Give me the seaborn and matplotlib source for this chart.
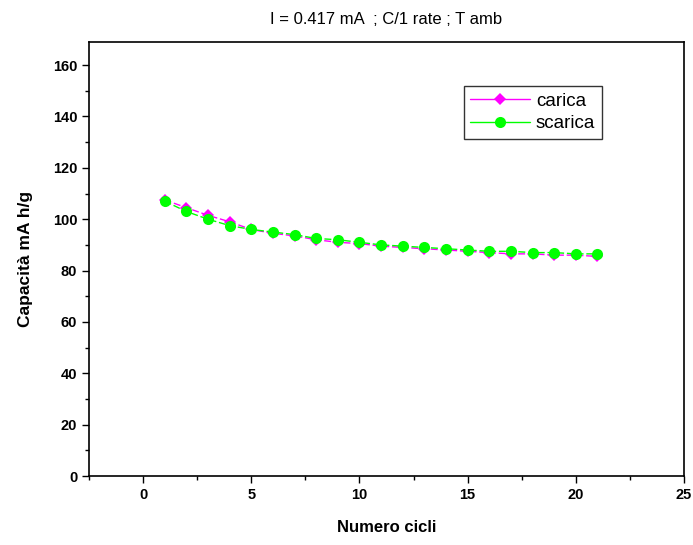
import matplotlib
matplotlib.use("Agg")
import matplotlib.pyplot as plt
import seaborn as sns
import pandas as pd
from matplotlib.ticker import MultipleLocator

cicli = list(range(1, 22))
carica = [107.5, 104.5, 101.5, 99, 96, 94.5, 93.5, 92, 91, 90.5, 89.5,
          89, 88.5, 88, 87.5, 87, 86.5, 86.5, 86, 86, 85.5]
scarica = [107, 103, 100, 97.5, 96, 95, 94, 92.5, 92, 91, 90,
           89.5, 89, 88.5, 88, 87.5, 87.5, 87, 87, 86.5, 86.5]

sns.set_theme(style="ticks")
plt.rcParams['font.family'] = ['Liberation Sans', 'DejaVu Sans']
plt.rcParams['text.color'] = 'black'
plt.rcParams['axes.labelcolor'] = 'black'
plt.rcParams['xtick.color'] = 'black'
plt.rcParams['ytick.color'] = 'black'

fig = plt.figure(figsize=(6.93, 5.45), dpi=100)
ax = fig.add_axes([89/693, 1-476/545, 595/693, 434/545])

df1 = pd.DataFrame({"x": cicli, "y": carica})
df2 = pd.DataFrame({"x": cicli, "y": scarica})
sns.lineplot(data=df1, x="x", y="y", ax=ax, color="#ff00ff", marker="D",
             markersize=6.5, markeredgewidth=0, linewidth=1, dashes=(5, 2),
             label="carica")
sns.lineplot(data=df2, x="x", y="y", ax=ax, color="#00ff00", marker="o",
             markersize=8, markeredgewidth=0, linewidth=1, dashes=(5, 2),
             label="scarica")

ax.set_xlim(-2.5, 25)
ax.set_ylim(0, 169)
ax.xaxis.set_major_locator(MultipleLocator(5))
ax.xaxis.set_minor_locator(MultipleLocator(2.5))
ax.yaxis.set_major_locator(MultipleLocator(20))
ax.yaxis.set_minor_locator(MultipleLocator(10))
ax.tick_params(axis='both', which='major', direction='out', length=5, width=1,
               labelsize=10.5, color='black', labelcolor='black')
ax.tick_params(axis='both', which='minor', direction='out', length=3, width=1,
               color='black')
for lab in ax.get_xticklabels() + ax.get_yticklabels():
    lab.set_fontweight('bold')
for s in ax.spines.values():
    s.set_visible(True)
    s.set_color('black')
    s.set_linewidth(1.2)

ax.set_xlabel("Numero cicli", fontsize=12, fontweight='bold', labelpad=13)
ax.set_ylabel("Capacità mA h/g", fontsize=12.5, fontweight='bold', labelpad=14)
ax.set_title("I = 0.417 mA  ; C/1 rate ; T amb", fontsize=12, pad=13)

leg = ax.legend(loc='upper right', bbox_to_anchor=(0.862, 0.899), frameon=True,
                fancybox=False, edgecolor='black', fontsize=13.5,
                handlelength=3.2, borderpad=0.35, labelspacing=0.3,
                handletextpad=0.3, borderaxespad=0)
leg.get_frame().set_linewidth(1)
for t in leg.get_texts():
    t.set_color('black')
for h in leg.get_lines():
    h.set_linestyle('-')

fig.savefig("out.png", dpi=100)
